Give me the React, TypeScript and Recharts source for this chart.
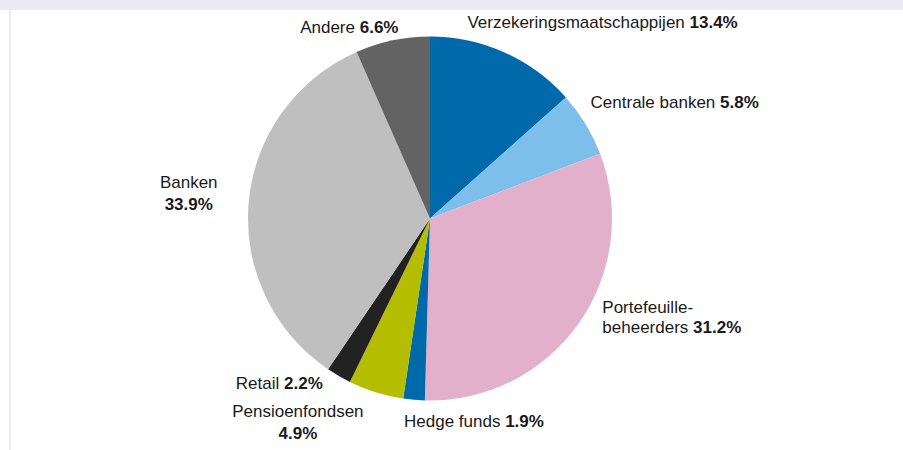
import React from "react";
import { PieChart, Pie, Cell } from "recharts";

const sectors = [
  "Verzekeringsmaatschappijen",
  "Centrale banken",
  "Portefeuillebeheerders",
  "Hedge funds",
  "Pensioenfondsen",
  "Retail",
  "Banken",
  "Andere",
];
const shares = [13.4, 5.8, 31.2, 1.9, 4.9, 2.2, 33.9, 6.6];
const nameLines = [
  ["Verzekeringsmaatschappijen"],
  ["Centrale banken"],
  ["Portefeuille-", "beheerders"],
  ["Hedge funds"],
  ["Pensioenfondsen"],
  ["Retail"],
  ["Banken"],
  ["Andere"],
];
const valueOwnLine = [false, false, false, false, true, false, true, false];

const colors = ["#0069aa", "#7dbfea", "#e3b0cb", "#0069aa", "#b5bd00", "#222222", "#bfbfbf", "#636363"];

// label placement, relative to the point on the rim at the slice's mid angle
const labelLayout = [
  { dx: -37, dy: -24, anchor: "start" },
  { dx: 5, dy: -16, anchor: "start" },
  { dx: 24, dy: -11, anchor: "start" },
  { dx: -10, dy: 27, anchor: "start" },
  { dx: -78, dy: 25, anchor: "middle" },
  { dx: -16, dy: 13, anchor: "end" },
  { dx: -60, dy: -14, anchor: "middle" },
  { dx: 6, dy: -7, anchor: "end" },
];

const data = sectors.map((name, i) => ({ name, value: shares[i] }));
const RADIAN = Math.PI / 180;

// eslint-disable-next-line @typescript-eslint/no-explicit-any
const renderLabel = (props: any) => {
  const { cx, cy, midAngle, outerRadius, index } = props;
  const x0 = cx + outerRadius * Math.cos(-midAngle * RADIAN);
  const y0 = cy + outerRadius * Math.sin(-midAngle * RADIAN);
  const lay = labelLayout[index];
  const x = x0 + lay.dx;
  const y = y0 + lay.dy;
  const lines = nameLines[index];
  const pct = `${shares[index].toFixed(1)}%`;
  const lineH = valueOwnLine[index] ? 22 : 20;
  const rows: React.ReactNode[] = [];
  lines.forEach((ln, j) => {
    const last = j === lines.length - 1;
    rows.push(
      <tspan key={j} x={x} dy={j === 0 ? 0 : lineH}>
        {ln}
        {last && !valueOwnLine[index] ? (
          <>
            {" "}
            <tspan fontWeight="bold">{pct}</tspan>
          </>
        ) : null}
      </tspan>
    );
  });
  if (valueOwnLine[index]) {
    rows.push(
      <tspan key="v" x={x} dy={lineH} fontWeight="bold">
        {pct}
      </tspan>
    );
  }
  return (
    <text
      x={x}
      y={y}
      textAnchor={lay.anchor}
      fontSize={17}
      fontFamily="'Liberation Sans', Arial, sans-serif"
      fill="#1a1a1a"
    >
      {rows}
    </text>
  );
};

export default function App() {
  return (
    <div style={{ position: "absolute", left: 0, top: 0, width: 903, height: 450, background: "#fff" }}>
      <div style={{ position: "absolute", left: 0, top: 0, width: 903, height: 10, background: "#ecebf4" }} />
      <div style={{ position: "absolute", left: 9, top: 10, width: 2, height: 440, background: "#ecebf4" }} />
      <div style={{ position: "absolute", left: 0, top: 0 }}>
        <PieChart width={903} height={450} margin={{ top: 0, right: 0, bottom: 0, left: 0 }}>
          <Pie
            data={data}
            dataKey="value"
            nameKey="name"
            cx={430}
            cy={218.5}
            outerRadius={182}
            startAngle={90}
            endAngle={-270}
            stroke="none"
            label={renderLabel}
            labelLine={false}
            isAnimationActive={false}
          >
            {data.map((d, i) => (
              <Cell key={d.name} fill={colors[i]} />
            ))}
          </Pie>
        </PieChart>
      </div>
    </div>
  );
}
